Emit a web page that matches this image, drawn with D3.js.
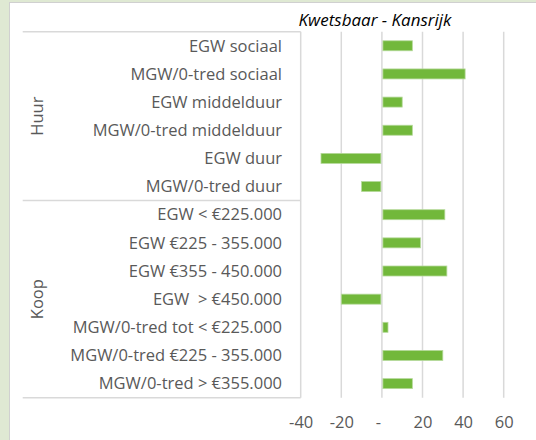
<!DOCTYPE html>
<html>
<head>
<meta charset="utf-8">
<script src="https://cdn.jsdelivr.net/npm/d3@7/dist/d3.min.js"></script>
<style>
  html, body { margin: 0; padding: 0; background: #dfe9d3; }
  svg { display: block; }
  text { white-space: pre; }
</style>
</head>
<body>
<svg id="chart" width="536" height="440"></svg>
<script>
const title = "Kwetsbaar - Kansrijk";
const categories = [
  "EGW sociaal",
  "MGW/0-tred sociaal",
  "EGW middelduur",
  "MGW/0-tred middelduur",
  "EGW duur",
  "MGW/0-tred duur",
  "EGW < €225.000",
  "EGW €225 - 355.000",
  "EGW €355 - 450.000",
  "EGW  > €450.000",
  "MGW/0-tred tot < €225.000",
  "MGW/0-tred €225 - 355.000",
  "MGW/0-tred > €355.000"
];
const groupNames = ["Huur", "Koop"];
const groupSizes = [6, 7];
const values = [15, 41, 10, 15, -30, -10, 31, 19, 32, -20, 3, 30, 15];
const tickValues = [-40, -20, 0, 20, 40, 60];

const svg = d3.select("#chart");
const font = "'Open Sans', sans-serif";
const labelSize = 16.5;

// chart area
svg.append("rect").attr("x", 9.5).attr("y", 2.5).attr("width", 540).attr("height", 450)
  .attr("fill", "#ffffff").attr("stroke", "#d0d0d0").attr("stroke-width", 1);

const plotTop = 31.7, plotBottom = 397.7;
const x = d3.scaleLinear().domain([-40, 60]).range([300.7, 503.7]);
const y = d3.scaleBand().domain(categories).range([plotTop, plotBottom])
  .paddingInner(0.645).paddingOuter(0.3225);

const grid = "#d9d9d9";

// gridlines
svg.append("g").selectAll("line").data(tickValues.filter(d => d !== -40)).join("line")
  .attr("x1", d => x(d)).attr("x2", d => x(d))
  .attr("y1", plotTop).attr("y2", plotBottom)
  .attr("stroke", grid).attr("stroke-width", 1.5);

// bars
svg.append("g").selectAll("rect").data(values).join("rect")
  .attr("x", d => d >= 0 ? x(0) + 1 : x(d))
  .attr("width", d => Math.max(0, Math.abs(x(d) - x(0)) - 1))
  .attr("y", (d, i) => y(categories[i]))
  .attr("height", y.bandwidth())
  .attr("fill", "#72b83b")
  .attr("stroke", "#b5d99a").attr("stroke-width", 0.8);

// category axis line
svg.append("line").attr("x1", x(-40)).attr("x2", x(-40))
  .attr("y1", plotTop).attr("y2", plotBottom)
  .attr("stroke", grid).attr("stroke-width", 1.5);

// group separators
const step = y.step();
let bounds = [0];
groupSizes.forEach(s => bounds.push(bounds[bounds.length - 1] + s));
svg.append("g").selectAll("line").data(bounds).join("line")
  .attr("x1", 22.7).attr("x2", x(-40))
  .attr("y1", b => plotTop + b * step).attr("y2", b => plotTop + b * step)
  .attr("stroke", grid).attr("stroke-width", 1.5);

// category labels
svg.append("g").selectAll("text").data(categories).join("text")
  .attr("x", 282)
  .attr("y", d => y(d) + y.bandwidth() / 2)
  .attr("dy", "0.35em")
  .attr("text-anchor", "end")
  .attr("font-family", font).attr("font-size", labelSize)
  .attr("fill", "#595959")
  .text(d => d);

// group labels
svg.append("g").selectAll("text").data(groupNames).join("text")
  .attr("transform", (d, i) => {
    const cy = plotTop + (bounds[i] + bounds[i + 1]) / 2 * step;
    return `translate(37,${cy}) rotate(-90)`;
  })
  .attr("dy", "0.35em")
  .attr("text-anchor", "middle")
  .attr("font-family", font).attr("font-size", labelSize)
  .attr("fill", "#595959")
  .text(d => d);

// value axis
const xAxis = d3.axisBottom(x).tickValues(tickValues).tickSize(0)
  .tickFormat(d => d === 0 ? "-" : d);
const gx = svg.append("g").attr("transform", `translate(0,${plotBottom})`).call(xAxis);
gx.select(".domain").remove();
gx.selectAll("text")
  .attr("y", 25).attr("dy", "0.35em")
  .attr("font-family", font).attr("font-size", labelSize)
  .attr("fill", "#595959")
  .attr("dx", d => d === 0 ? -4 : 0);

// title
svg.append("text").attr("x", 375).attr("y", 20).attr("dy", "0.35em")
  .attr("text-anchor", "middle")
  .attr("font-family", font).attr("font-size", 17).attr("font-style", "italic")
  .attr("fill", "#000000")
  .text(title);
</script>
</body>
</html>
